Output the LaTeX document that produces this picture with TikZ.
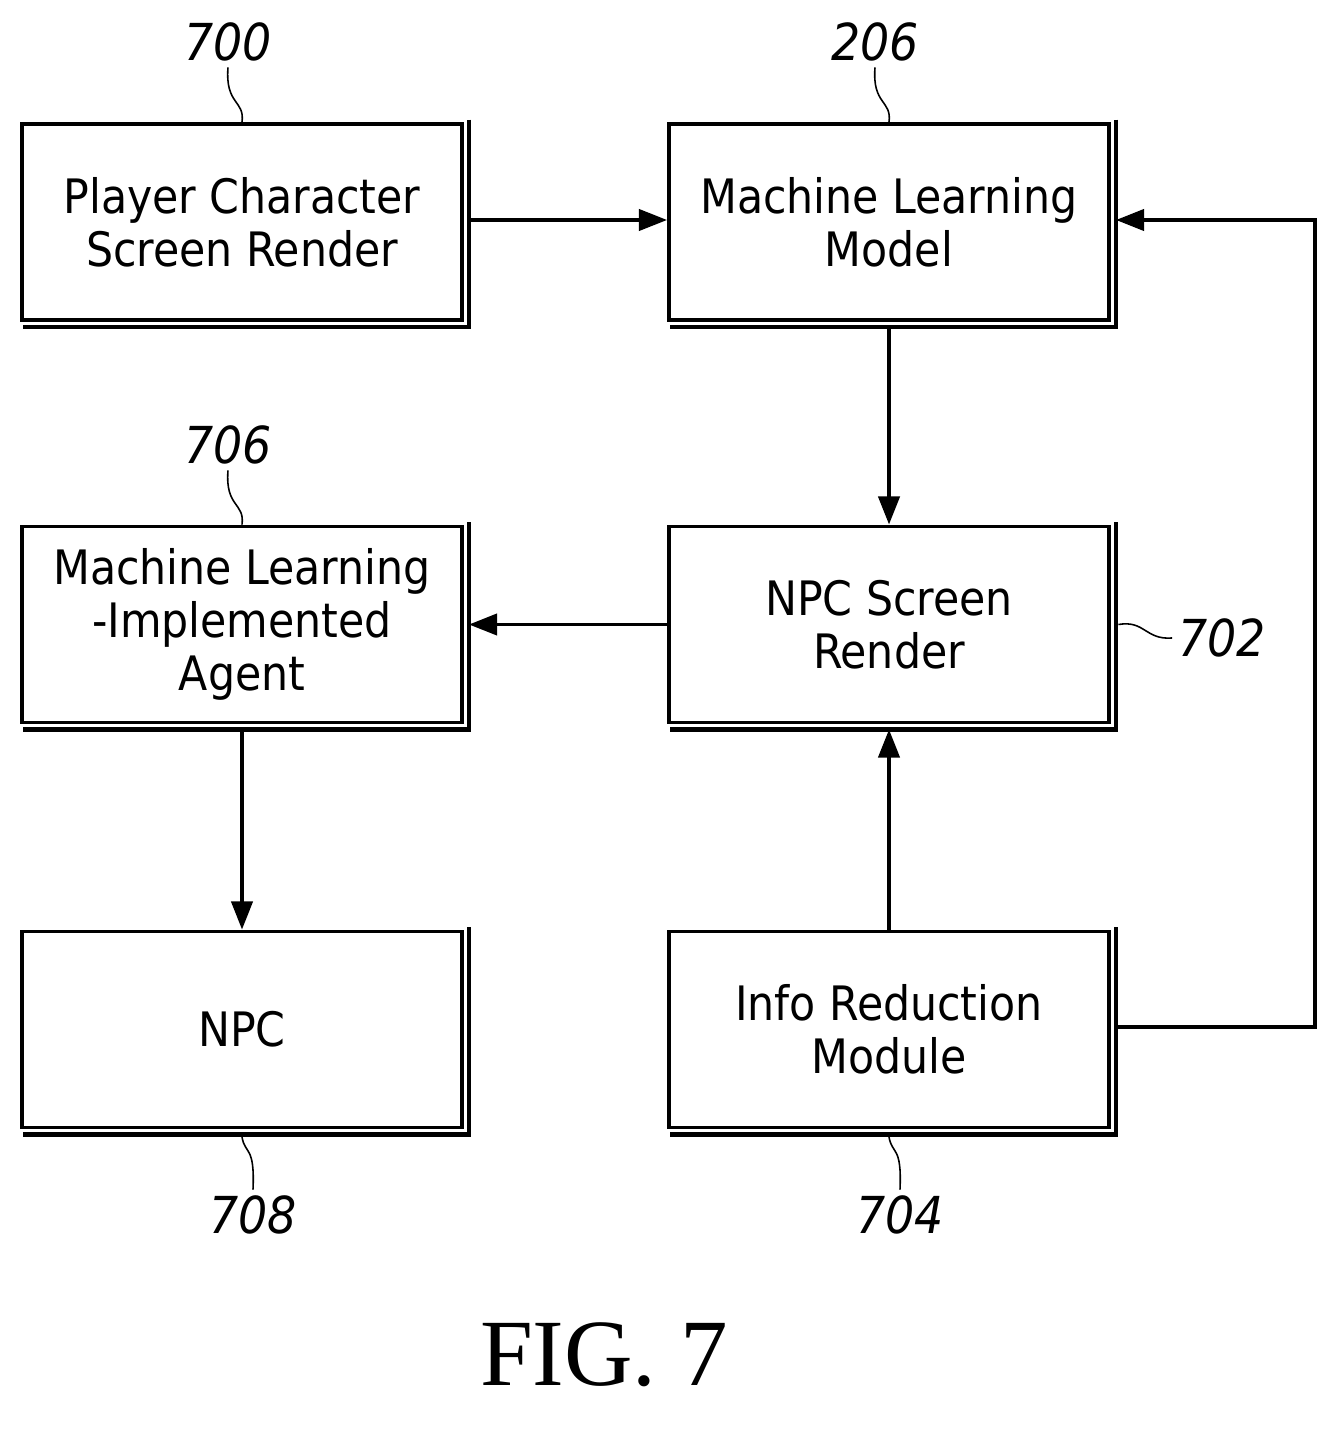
\documentclass[tikz,border=0pt]{standalone}
\usepackage{fontspec}
\setsansfont{DejaVu Sans Condensed}
\setmainfont{Liberation Serif}
\usetikzlibrary{arrows.meta}
\tikzset{
  blk/.style={draw, line width=2.2pt, minimum width=8.8cm, minimum height=3.92cm,
    align=center, font=\sffamily\fontsize{27}{30}\selectfont},
  shade/.style={line width=2.6pt},
  ref/.style={font=\sffamily\itshape\fontsize{29}{30}\selectfont},
  flow/.style={line width=2.2pt, -{Triangle[length=16pt, width=12pt]}},
  lead/.style={line width=0.9pt}
}
\begin{document}
\begin{tikzpicture}
\useasboundingbox (0,0) rectangle (26.78,-28.7);
% blocks
\node[blk] (pcr) at (4.84,-4.44) {Player Character\\Screen Render};
\node[blk] (mlm) at (17.78,-4.44) {Machine Learning\\Model};
\node[blk] (mla) at (4.84,-12.49) {Machine Learning\\-Implemented\\Agent};
\node[blk] (nsr) at (17.78,-12.49) {NPC Screen\\Render};
\node[blk] (npc) at (4.84,-20.59) {NPC};
\node[blk] (irm) at (17.78,-20.59) {Info Reduction\\Module};
% shadows
\foreach \b in {pcr,mlm,mla,nsr,npc,irm}
  \draw[shade] ([shift={(0.1,0.05)}]\b.north east) -- ([shift={(0.1,-0.1)}]\b.south east)
    -- ([shift={(0.05,-0.1)}]\b.south west);
% reference numerals
\node[ref] (r700) at (4.56,-0.84) {700};
\node[ref] (r206) at (17.5,-0.84) {206};
\node[ref] (r706) at (4.56,-8.9) {706};
\node[ref] (r702) at (24.44,-12.76) {702};
\node[ref] (r708) at (5.06,-24.3) {708};
\node[ref] (r704) at (18.0,-24.3) {704};
\draw[lead] (r700.south) .. controls (4.5,-2.1) and (4.9,-2.0) .. (pcr.north);
\draw[lead] (r206.south) .. controls (17.44,-2.1) and (17.84,-2.0) .. (mlm.north);
\draw[lead] (r706.south) .. controls (4.5,-10.15) and (4.9,-10.05) .. (mla.north);
\draw[lead] (nsr.east) ++(0.15,0) .. controls (22.9,-12.4) and (22.9,-12.8) .. (r702.west);
\draw[lead] (npc.south) ++(0,-0.15) .. controls (4.9,-23.1) and (5.1,-22.9) .. (r708.north);
\draw[lead] (irm.south) ++(0,-0.15) .. controls (17.84,-23.1) and (18.04,-22.9) .. (r704.north);
% connectors
\coordinate (c1) at (26.3,-20.54);
\coordinate (c2) at (26.3,-4.4);
\draw[flow] ([xshift=0.1cm]pcr.east |- 0,-4.4) -- (mlm.west |- 0,-4.4);
\draw[flow] ([yshift=-0.1cm]mlm.south) -- (nsr);
\draw[flow] (nsr) -- ([xshift=0.1cm]mla.east);
\draw[flow] ([yshift=-0.1cm]mla.south) -- (npc);
\draw[flow] (irm) -- ([yshift=-0.1cm]nsr.south);
\draw[flow] ([xshift=0.1cm]irm.east |- c1) -- (c1) -- (c2) -- ([xshift=0.1cm]mlm.east |- c2);
\node[font=\rmfamily\fontsize{54}{56}\selectfont] (fig) at (12.08,-27.1) {FIG. 7};
\end{tikzpicture}
\end{document}
